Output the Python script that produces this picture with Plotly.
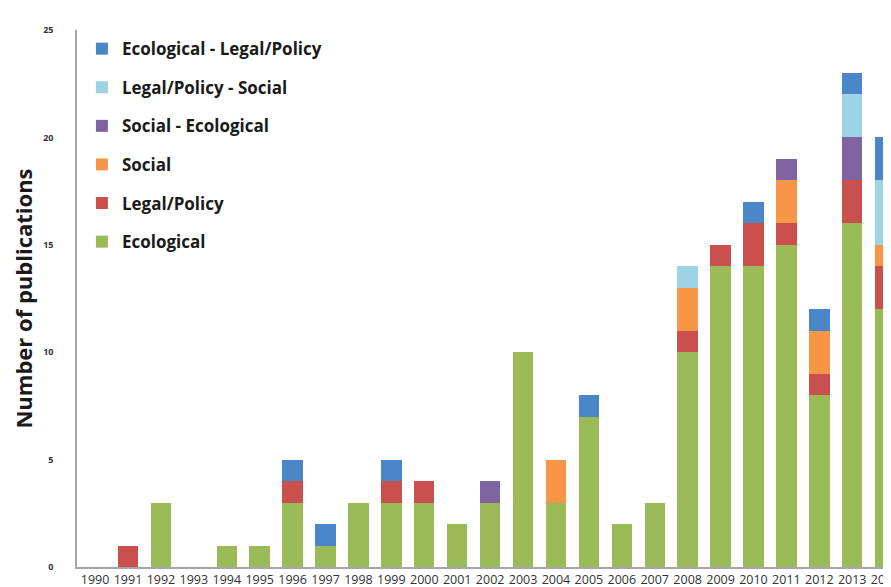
import plotly.graph_objects as go

years = [str(y) for y in range(1990, 2015)]
ecological       = [0,0,3,0,1,1,3,1,3,3,3,2,3,10,3,7,2,3,10,14,14,15,8,16,12]
legal_policy     = [0,1,0,0,0,0,1,0,0,1,1,0,0,0,0,0,0,0,1,1,2,1,1,2,2]
social           = [0,0,0,0,0,0,0,0,0,0,0,0,0,0,2,0,0,0,2,0,0,2,2,0,1]
social_ecol      = [0,0,0,0,0,0,0,0,0,0,0,0,1,0,0,0,0,0,0,0,0,1,0,2,0]
legal_social     = [0,0,0,0,0,0,0,0,0,0,0,0,0,0,0,0,0,0,1,0,0,0,0,2,3]
ecol_legal       = [0,0,0,0,0,0,1,1,0,1,0,0,0,0,0,1,0,0,0,0,1,0,1,1,2]

series = [
    ("Ecological", ecological, "#9BBB59"),
    ("Legal/Policy", legal_policy, "#C9504D"),
    ("Social", social, "#F79646"),
    ("Social - Ecological", social_ecol, "#8064A2"),
    ("Legal/Policy - Social", legal_social, "#9DD3E4"),
    ("Ecological - Legal/Policy", ecol_legal, "#4A86C8"),
]

fig = go.Figure()
n = len(series)
for i, (name, vals, col) in enumerate(series):
    fig.add_trace(go.Bar(x=years, y=vals, name=name, marker_color=col,
                         marker_line_width=0, legendgroup=f"g{i}",
                         legendrank=n - i))

fig.update_layout(
    barmode="stack",
    bargap=0.38,
    width=891, height=587,
    margin=dict(l=69, r=0, t=22, b=28),
    plot_bgcolor="white", paper_bgcolor="white",
    font=dict(family="Open Sans", color="#222222"),
    legend=dict(
        x=0.006, y=0.998, xanchor="left", yanchor="top",
        traceorder="grouped", tracegroupgap=13.5,
        font=dict(family="Open Sans", size=17, color="#1a1a1a", weight="bold"),
        bgcolor="rgba(255,255,255,0)",
        itemwidth=30,
    ),
    xaxis=dict(
        range=[-0.55, 24.36],
        showline=True, linecolor="#a6a6a6", linewidth=1.5,
        ticks="", tickfont=dict(family="Open Sans", size=12.5, color="#333333"),
        tickangle=0, showgrid=False,
    ),
    yaxis=dict(
        range=[0, 25], tickvals=[0, 5, 10, 15, 20, 25],
        showline=True, linecolor="#a6a6a6", linewidth=1.5,
        ticks="", showgrid=False, zeroline=False,
        tickfont=dict(family="Open Sans", size=9, color="#333333", weight="bold"),
        ticklabelstandoff=20,
        title=dict(text="Number of publications", standoff=11,
                   font=dict(family="Open Sans", size=22, color="#1a1a1a", weight="bold")),
    ),
)

fig.write_html("out.html")
